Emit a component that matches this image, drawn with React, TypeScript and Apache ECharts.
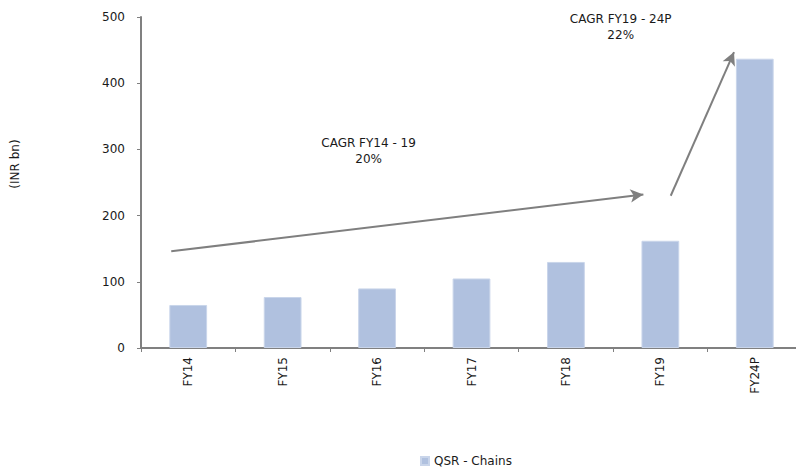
import React, { useEffect, useRef } from "react";
import * as echarts from "echarts";

const categories = ["FY14", "FY15", "FY16", "FY17", "FY18", "FY19", "FY24P"];
const qsrChains = [65, 77, 90, 105, 130, 162, 437];
const yTicks = { min: 0, max: 500, interval: 100 };

// CAGR arrows in data space: [categoryPosition, value]
const arrowFY14to19 = [[-0.18, 146], [4.82, 232]];
const arrowFY19to24 = [[5.11, 230], [5.78, 447]];
const cagrLabels = [
  { text: "CAGR FY14 - 19\n20%", at: [1.91, 298] },
  { text: "CAGR FY19 - 24P\n22%", at: [4.58, 485] },
];

const FONT = "'DejaVu Sans', Tahoma, Verdana, sans-serif";

export default function App() {
  const ref = useRef<HTMLDivElement>(null);

  useEffect(() => {
    if (!ref.current) return;
    const chart = echarts.init(ref.current, null, { renderer: "svg" });
    const axisColor = "#808080";
    chart.setOption({
      animation: false,
      backgroundColor: "#ffffff",
      textStyle: { fontFamily: FONT },
      // the plot runs a few pixels past the right edge of the canvas
      grid: { left: 141, right: 0, top: 17, bottom: 123 },
      legend: {
        top: 450,
        left: 415,
        itemWidth: 8,
        itemHeight: 8,
        itemGap: 3,
        icon: "rect",
        textStyle: { fontSize: 12, color: "#1a1a1a", fontFamily: FONT },
        data: ["QSR - Chains"],
      },
      graphic: [
        {
          type: "text",
          x: 9,
          y: 164,
          rotation: Math.PI / 2,
          style: {
            text: "(INR bn)",
            fill: "#1a1a1a",
            fontSize: 12,
            fontFamily: FONT,
            align: "center",
            verticalAlign: "top",
          },
        },
      ],
      xAxis: [
        {
          type: "category",
          data: categories,
          axisLine: { lineStyle: { color: axisColor, width: 2 } },
          axisTick: { show: true, length: 4, lineStyle: { color: axisColor } },
          axisLabel: {
            rotate: 90,
            margin: 9,
            fontSize: 12,
            color: "#1a1a1a",
            fontFamily: FONT,
          },
        },
        {
          type: "value",
          min: -0.5,
          max: 6.5,
          show: false,
        },
      ],
      yAxis: {
        type: "value",
        min: yTicks.min,
        max: yTicks.max,
        interval: yTicks.interval,
        axisLine: { show: true, onZero: false, lineStyle: { color: axisColor, width: 2 } },
        axisTick: { show: true, length: 4, lineStyle: { color: axisColor } },
        axisLabel: { fontSize: 12, color: "#1a1a1a", margin: 16, fontFamily: FONT },
        splitLine: { show: false },
      },
      series: [
        {
          name: "QSR - Chains",
          type: "bar",
          data: qsrChains,
          barWidth: "40%",
          itemStyle: { color: "#b0c1df", borderColor: "#c9d5ea", borderWidth: 1 },
        },
        {
          name: "cagr",
          type: "line",
          xAxisIndex: 1,
          data: [],
          silent: true,
          markLine: {
            silent: true,
            symbol: ["none", "arrow"],
            symbolSize: [10, 13],
            label: { show: false },
            lineStyle: { color: "#7f7f7f", width: 2, type: "solid" },
            data: [
              [{ coord: arrowFY14to19[0] }, { coord: arrowFY14to19[1] }],
              [{ coord: arrowFY19to24[0] }, { coord: arrowFY19to24[1] }],
            ],
          },
          markPoint: {
            silent: true,
            symbol: "rect",
            symbolSize: 1,
            itemStyle: { color: "transparent" },
            label: {
              show: true,
              position: "inside",
              color: "#1a1a1a",
              fontSize: 12,
              lineHeight: 16,
              align: "center",
              fontFamily: FONT,
              formatter: (p: any) => p.name,
            },
            data: cagrLabels.map((l) => ({ name: l.text, coord: l.at })),
          },
        },
      ],
    });
    return () => chart.dispose();
  }, []);

  return (
    <div
      ref={ref}
      style={{ position: "fixed", left: 0, top: 0, width: 802, height: 471 }}
    />
  );
}
